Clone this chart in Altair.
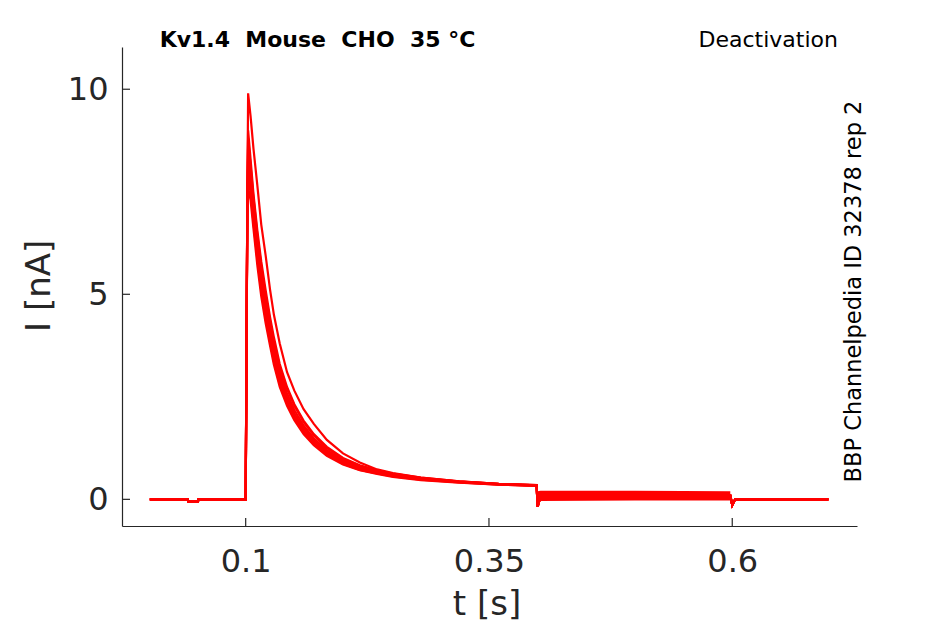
import altair as alt
import pandas as pd

# ---- data ----
T = [0.0015, 0.0405, 0.0410, 0.0510, 0.0515, 0.1000,
     0.1017, 0.1025, 0.1050, 0.1080, 0.1120, 0.1160, 0.1205, 0.1250, 0.1290,
     0.1350, 0.1425, 0.1500, 0.1595, 0.1700, 0.1834, 0.2000, 0.2173, 0.2350,
     0.2513, 0.2800, 0.3194, 0.3600, 0.3990,
     0.4000, 0.4030, 0.5980, 0.6000, 0.6030, 0.6988]

pre = [0.0, 0.0, -0.05, -0.05, 0.0, 0.0]
post = [-0.18, 0.08, 0.09, -0.14, 0.0, 0.0]

trace_A = [7.3, 9.9, 9.35, 8.55, 7.65, 6.7, 5.95, 5.12, 4.5, 3.8, 3.1, 2.65, 2.2,
           1.84, 1.45, 1.12, 0.90, 0.73, 0.64, 0.53, 0.44, 0.38, 0.35]
trace_B1 = [7.3, 9.0, 8.3, 7.45, 6.55, 5.8, 5.1, 4.45, 3.95, 3.30, 2.74, 2.32, 1.92,
            1.59, 1.28, 1.01, 0.83, 0.71, 0.63, 0.53, 0.44, 0.38, 0.35]
trace_B12 = [7.25, 8.8, 8.15, 7.35, 6.45, 5.68, 4.98, 4.35, 3.85, 3.22, 2.69, 2.28, 1.88,
             1.56, 1.25, 0.99, 0.82, 0.69, 0.62, 0.52, 0.435, 0.375, 0.345]
trace_B2 = [7.2, 8.6, 8.0, 7.2, 6.3, 5.5, 4.8, 4.2, 3.7, 3.1, 2.58, 2.18, 1.80,
            1.49, 1.20, 0.95, 0.79, 0.67, 0.60, 0.51, 0.43, 0.37, 0.34]
trace_B23 = [7.1, 8.35, 7.85, 7.05, 6.15, 5.35, 4.65, 4.07, 3.57, 2.99, 2.49, 2.10, 1.74,
             1.44, 1.16, 0.92, 0.765, 0.655, 0.585, 0.50, 0.425, 0.368, 0.338]
trace_B3 = [7.0, 8.1, 7.7, 6.9, 6.0, 5.2, 4.5, 3.95, 3.45, 2.88, 2.40, 2.03, 1.68,
            1.39, 1.12, 0.89, 0.74, 0.64, 0.57, 0.49, 0.42, 0.365, 0.335]
trace_B34 = [7.2, 7.85, 7.5, 6.75, 5.85, 5.08, 4.4, 3.85, 3.36, 2.81, 2.34, 1.98, 1.63,
             1.35, 1.09, 0.87, 0.72, 0.63, 0.56, 0.48, 0.415, 0.36, 0.33]
trace_B4 = [7.4, 7.6, 7.3, 6.6, 5.7, 4.95, 4.3, 3.75, 3.28, 2.74, 2.28, 1.93, 1.59,
            1.32, 1.06, 0.85, 0.71, 0.62, 0.55, 0.47, 0.41, 0.36, 0.33]

# noisy segment envelope (0.4 s - 0.6 s)
band_t = [0.4000, 0.4030, 0.5000, 0.5980]
band_lo = [-0.19, -0.04, -0.03, -0.03]
band_hi = [0.20, 0.21, 0.21, 0.20]

x_ticks = [0.1, 0.35, 0.6]
y_ticks = [0, 5, 10]

title_text = "Kv1.4\u00a0 Mouse\u00a0 CHO\u00a0 35 °C"
right_title = "Deactivation"
side_text = "BBP Channelpedia ID 32378 rep 2"
x_title = "t [s]"
y_title = "I [nA]"

# ---- build tables ----
traces = {"A": trace_A, "B1": trace_B1, "B12": trace_B12, "B2": trace_B2,
          "B23": trace_B23, "B3": trace_B3, "B34": trace_B34, "B4": trace_B4}
rows = []
for name, vals in traces.items():
    full = pre + vals + post
    for t, v in zip(T, full):
        rows.append({"trace": name, "t": t, "I": v})
df = pd.DataFrame(rows)
band = pd.DataFrame({"t": band_t, "lo": band_lo, "hi": band_hi})
xt = pd.DataFrame({"t": x_ticks})
yt = pd.DataFrame({"I": y_ticks})

RED = "#ff0000"
AX = "#262626"
FONT = "DejaVu Sans"

xscale = alt.Scale(domain=[-0.0271, 0.7282], nice=False, zero=False)
yscale = alt.Scale(domain=[-0.65, 11.03], nice=False, zero=False)

xaxis = alt.Axis(values=x_ticks, format="~g", title="", grid=False, ticks=False,
                 tickSize=0, labelPadding=20, labelFontSize=32, labelFont=FONT,
                 labelColor=AX, domainColor=AX, domainWidth=1.2)
yaxis = alt.Axis(values=y_ticks, format="d", title="", grid=False, ticks=False,
                 tickSize=0, labelPadding=14, labelFontSize=32, labelFont=FONT,
                 labelColor=AX, domainColor=AX, domainWidth=1.2)

lines = alt.Chart(df).mark_line(color=RED, strokeWidth=2.2).encode(
    x=alt.X("t:Q", scale=xscale, axis=xaxis),
    y=alt.Y("I:Q", scale=yscale, axis=yaxis),
    detail="trace:N",
)

noise = alt.Chart(band).mark_area(color=RED, opacity=1).encode(
    x="t:Q",
    y="lo:Q",
    y2="hi:Q",
)

xtick_rules = alt.Chart(xt).mark_rule(color=AX, strokeWidth=1.2).encode(
    x="t:Q", y=alt.value(479), y2=alt.value(471)
)
ytick_rules = alt.Chart(yt).mark_rule(color=AX, strokeWidth=1.2).encode(
    y="I:Q", x=alt.value(0), x2=alt.value(8)
)

def label(text, x, y, size, **kw):
    return alt.Chart(pd.DataFrame({"s": [text]})).mark_text(
        font=FONT, fontSize=size, baseline="alphabetic", **kw
    ).encode(text="s:N", x=alt.value(x), y=alt.value(y))

t1 = label(title_text, 195.5, 0, 22, fontWeight="bold", align="center", color="#000000")
t2 = label(right_title, 716, 0, 22, align="right", color="#000000")
t3 = label(side_text, 739, 244.5, 22.5, align="center", angle=270, color="#000000")
t4 = label(x_title, 365, 568, 34, align="center", color=AX)
t5 = label(y_title, -72, 238.8, 34, align="center", angle=270, color=AX)

chart = alt.layer(lines, noise, xtick_rules, ytick_rules, t1, t2, t3, t4, t5).properties(
    width=735,
    height=479,
    autosize=alt.AutoSizeParams(type="none"),
    padding={"left": 114, "top": 39, "right": 80, "bottom": 98},
).configure_view(strokeOpacity=0)

chart.save("out.html", embed_options={"renderer": "svg", "actions": False})
